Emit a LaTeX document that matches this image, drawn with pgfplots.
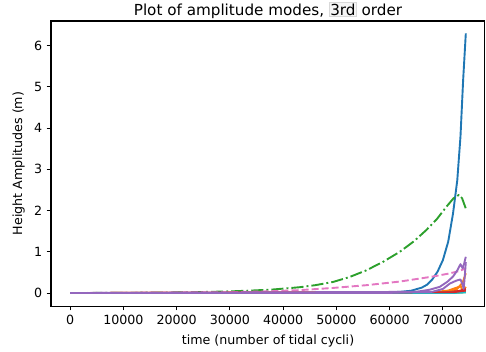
\documentclass[border=0pt]{standalone}
\usepackage{pgfplots}
\pgfplotsset{compat=1.18}
\usepackage{fontspec}
\setmainfont{DejaVu Sans}
\definecolor{c0}{HTML}{1F77B4}
\definecolor{c1}{HTML}{FF7F0E}
\definecolor{c2}{HTML}{2CA02C}
\definecolor{c3}{HTML}{D62728}
\definecolor{c4}{HTML}{9467BD}
\definecolor{c5}{HTML}{8C564B}
\definecolor{c6}{HTML}{E377C2}
\definecolor{c7}{HTML}{7F7F7F}
\definecolor{c8}{HTML}{BCBD22}
\definecolor{c9}{HTML}{17BECF}
\begin{document}
\begin{tikzpicture}
\path[use as bounding box] (-40.3pt,-35.6pt) rectangle (343.7pt,241.8pt);
\begin{axis}[
  at={(0pt,0pt)}, anchor=south west,
  scale only axis, width=342.9pt, height=225.2pt,
  xmin=-3600, xmax=77900, ymin=-0.315, ymax=6.6,
  xtick={0,10000,...,70000}, ytick={0,1,...,6},
  scaled x ticks=false,
  /pgf/number format/1000 sep={},
  /pgf/number format/assume math mode=true,
  tick align=outside, tick pos=left,
  major tick length=3.5pt,
  every tick/.style={black, line width=0.8pt},
  axis line style={black, line width=0.8pt},
  ticklabel style={font=\fontsize{10}{12}\selectfont},
  label style={font=\fontsize{10}{12}\selectfont},
  xlabel={time (number of tidal cycli)},
  ylabel={Height Amplitudes (m)},
  xlabel style={yshift=-1.5pt},
  ylabel style={yshift=0.5pt},
  title={Plot of amplitude modes, {\setlength{\fboxsep}{0.6pt}\fcolorbox{black!15}{black!4}{3rd}} order},
  title style={font=\fontsize{12}{14}\selectfont, at={(0.5,1)}, anchor=base, yshift=-1.3pt},
  every axis plot/.append style={line width=1.5pt, line join=round},
  clip=true,
]
% blue
\addplot[c0] coordinates {(0,0) (40000,0) (50000,0.002) (55000,0.006) (60000,0.018) (62000,0.03) (64000,0.055) (66000,0.13) (67000,0.2) (68000,0.33) (69000,0.52) (70000,0.8) (71000,1.25) (71900,1.93) (72700,2.74) (73300,3.8) (73800,5.17) (74300,6.3)};
% orange
\addplot[c1] coordinates {(0,0) (65000,0.005) (68000,0.02) (71000,0.06) (73000,0.15) (73700,0.25) (74300,0.48)};
\addplot[c1] coordinates {(0,0) (70000,0.02) (72500,0.08) (73300,0.18) (73700,0.05) (74300,0.15)};
% green dash-dot
\addplot[c2, dash pattern=on 9.6pt off 2.4pt on 1.5pt off 2.4pt] coordinates {(0,0) (10000,0.005) (20000,0.015) (25000,0.025) (30000,0.04) (34000,0.06) (38000,0.085) (43000,0.14) (46000,0.19) (49400,0.27) (52500,0.39) (55600,0.55) (58800,0.76) (61900,1.0) (64500,1.25) (66900,1.53) (68900,1.8) (70700,2.1) (72000,2.3) (73000,2.38) (73600,2.3) (74300,2.05)};
% red
\addplot[c3] coordinates {(0,0) (70000,0.01) (73000,0.05) (74300,0.1)};
% brown, gray, olive, cyan
\addplot[c5] coordinates {(0,0) (71000,0.005) (73500,0.03) (74300,0.05)};
\addplot[c7] coordinates {(0,0) (72000,0.005) (74300,0.03)};
\addplot[c8] coordinates {(0,0) (72000,0.005) (74300,0.02)};
\addplot[c9] coordinates {(0,0) (72000,0.003) (74300,0.015)};
% pink dashed
\addplot[c6, dash pattern=on 5.55pt off 2.4pt] coordinates {(0,0) (30000,0.02) (37000,0.04) (43000,0.07) (49000,0.12) (55600,0.19) (62000,0.28) (68100,0.4) (71000,0.47) (73000,0.53) (74300,0.6)};
% red again
\addplot[c3] coordinates {(0,0) (72000,0.02) (74300,0.06)};
% purple
\addplot[c4] coordinates {(0,0) (68000,0.03) (70000,0.1) (71300,0.23) (72500,0.3) (73300,0.33) (73700,0.2) (73900,0.1) (74100,0.4) (74300,0.75)};
\addplot[c4] coordinates {(0,0) (60000,0.003) (65000,0.03) (67500,0.08) (69400,0.15) (70800,0.27) (71900,0.4) (72700,0.55) (73300,0.7) (73700,0.6) (74000,0.72) (74300,0.88)};
\end{axis}
\end{tikzpicture}
\end{document}
